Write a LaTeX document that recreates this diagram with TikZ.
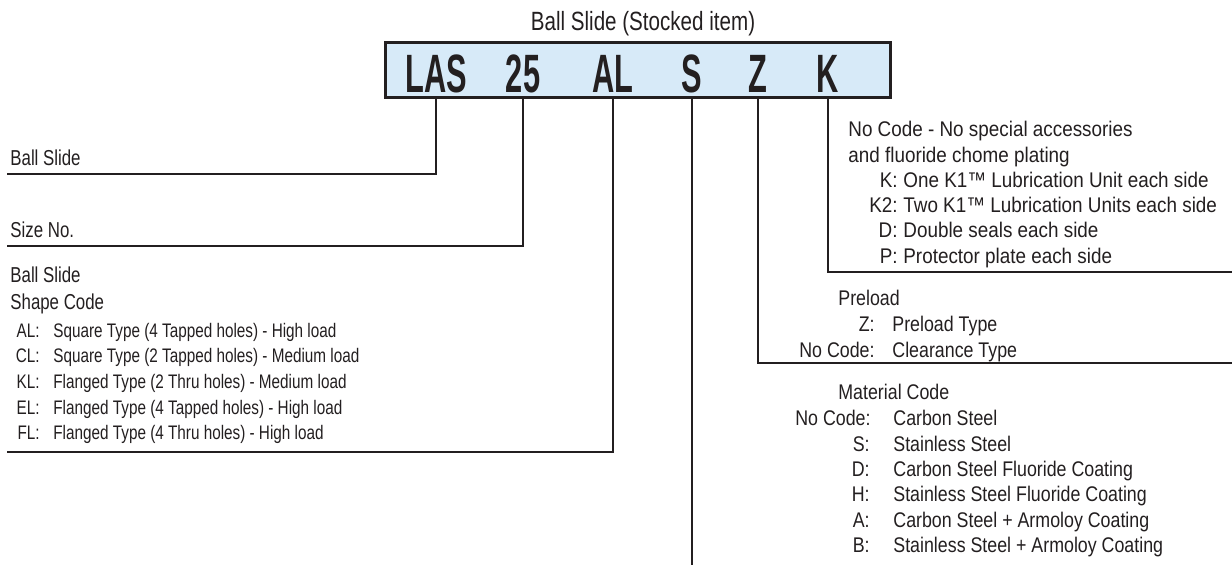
\documentclass[tikz,border=0pt]{standalone}
\usepackage{fontspec}
\setmainfont{Liberation Sans}[FakeStretch=0.78]
\newfontfamily\condbold{Liberation Sans}[FakeStretch=0.57]
\newfontfamily\rightfont{Liberation Sans}[FakeStretch=0.84]
\newfontfamily\kfont{Liberation Sans}[FakeStretch=0.89]
\definecolor{ink}{RGB}{35,31,32}
\definecolor{boxblue}{RGB}{215,234,248}
\tikzset{
  txt/.style={anchor=base west,inner sep=0pt,text=ink,font=\fontsize{9.8}{12}\selectfont},
  hdr/.style={anchor=base west,inner sep=0pt,text=ink,font=\fontsize{10.8}{13}\selectfont},
  code/.style={anchor=base east,inner sep=0pt,text=ink,font=\fontsize{9.8}{12}\selectfont},
  rtxt/.style={anchor=base west,inner sep=0pt,text=ink,font=\rightfont\fontsize{10.6}{12}\selectfont},
  rcode/.style={anchor=base east,inner sep=0pt,text=ink,font=\rightfont\fontsize{10.6}{12}\selectfont},
  ktxt/.style={anchor=base west,inner sep=0pt,text=ink,font=\kfont\fontsize{10.6}{12}\selectfont},
  kcode/.style={anchor=base east,inner sep=0pt,text=ink,font=\kfont\fontsize{10.6}{12}\selectfont},
  big/.style={anchor=base,inner sep=0pt,text=ink,font=\condbold\bfseries\fontsize{27}{30}\selectfont},
  conn/.style={draw=ink,line width=1pt},
}
\begin{document}
\begin{tikzpicture}[x=0.5pt,y=-0.5pt]
\useasboundingbox (0,0) rectangle (1232,564);
% title and code box
\node[anchor=base,inner sep=0pt,text=ink,font=\fontsize{13.2}{15}\selectfont] (title) at (643,30) {Ball Slide (Stocked item)};
\node[draw=ink,fill=boxblue,line width=1.5pt,minimum width=252.5pt,minimum height=27.5pt,inner sep=0pt] (box) at (637.5,69.5) {};
\node[big] (las) at (436,92) {LAS};
\node[big] (n25) at (523,92) {25};
\node[big] (al) at (613,92) {AL};
\node[big] (s) at (692,92) {S};
\node[big] (z) at (758,92) {Z};
\node[big] (k) at (828,92) {K};
% end points
\coordinate (lasend) at (7,174);
\coordinate (n25end) at (7,246);
\coordinate (alend) at (7,452);
\coordinate (send) at (692,566);
\coordinate (zend) at (1234,363);
\coordinate (kend) at (1234,272);
% connectors
\draw[conn] (las |- box.south) |- (lasend);
\draw[conn] (n25 |- box.south) |- (n25end);
\draw[conn] (al |- box.south) |- (alend);
\draw[conn] (s |- box.south) -- (send);
\draw[conn] (z |- box.south) |- (zend);
\draw[conn] (k |- box.south) |- (kend);
% left labels
\node[hdr] (ballslide) at (10,165) {Ball Slide};
\node[hdr] (sizeno) at (10,237) {Size No.};
\node[hdr] (shape1) at (10,282.7) {Ball Slide};
\node[hdr] (shape2) at (10,309) {Shape Code};
\node[code] (cAL) at (40,337.3) {AL:};
\node[txt] (dAL) at (53,337.3) {Square Type (4 Tapped holes) - High load};
\node[code] (cCL) at (40,362.9) {CL:};
\node[txt] (dCL) at (53,362.9) {Square Type (2 Tapped holes) - Medium load};
\node[code] (cKL) at (40,388.5) {KL:};
\node[txt] (dKL) at (53,388.5) {Flanged Type (2 Thru holes) - Medium load};
\node[code] (cEL) at (40,414.1) {EL:};
\node[txt] (dEL) at (53,414.1) {Flanged Type (4 Tapped holes) - High load};
\node[code] (cFL) at (40,439.7) {FL:};
\node[txt] (dFL) at (53,439.7) {Flanged Type (4 Thru holes) - High load};
% K section
\node[ktxt] (kh1) at (848,136.7) {No Code - No special accessories};
\node[ktxt] (kh2) at (848,162.5) {and fluoride chome plating};
\node[kcode] (cK) at (898,187.5) {K:};
\node[ktxt] (dK) at (903,187.5) {One K1™ Lubrication Unit each side};
\node[kcode] (cK2) at (898,212.7) {K2:};
\node[ktxt] (dK2) at (903,212.7) {Two K1™ Lubrication Units each side};
\node[kcode] (cD) at (898,237.9) {D:};
\node[ktxt] (dD) at (903,237.9) {Double seals each side};
\node[kcode] (cP) at (898,263) {P:};
\node[ktxt] (dP) at (903,263) {Protector plate each side};
% Preload section
\node[rtxt] (ph) at (838,305.7) {Preload};
\node[rcode] (cZ) at (875,331.7) {Z:};
\node[rtxt] (dZ) at (892,331.7) {Preload Type};
\node[rcode] (cZn) at (875,357) {No Code:};
\node[rtxt] (dZn) at (892,357) {Clearance Type};
% Material section
\node[rtxt] (mh) at (838,399) {Material Code};
\node[rcode] (cMn) at (871,425.7) {No Code:};
\node[rtxt] (dMn) at (893,425.7) {Carbon Steel};
\node[rcode] (cS) at (870,451.1) {S:};
\node[rtxt] (dS) at (893,451.1) {Stainless Steel};
\node[rcode] (cMD) at (870,476.5) {D:};
\node[rtxt] (dMD) at (893,476.5) {Carbon Steel Fluoride Coating};
\node[rcode] (cH) at (870,501.9) {H:};
\node[rtxt] (dH) at (893,501.9) {Stainless Steel Fluoride Coating};
\node[rcode] (cA) at (870,527.3) {A:};
\node[rtxt] (dA) at (893,527.3) {Carbon Steel + Armoloy Coating};
\node[rcode] (cB) at (870,552.7) {B:};
\node[rtxt] (dB) at (893,552.7) {Stainless Steel + Armoloy Coating};
\end{tikzpicture}
\end{document}
